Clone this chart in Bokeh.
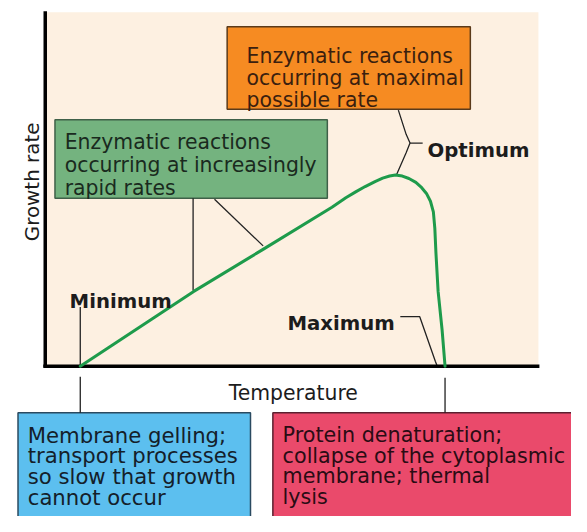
import math
from bokeh.plotting import figure
from bokeh.models import Range1d
from bokeh.core.properties import value
from bokeh.embed import file_html
from bokeh.resources import INLINE

# ---------------- data ----------------
temperature = [0, 31, 50, 69, 72.8, 75.5, 78.1, 80.8, 82.9, 84.8, 86.4, 88.3, 90.1, 92.0,
               93.6, 94.9, 96.0, 96.8, 97.2, 97.5, 98.1, 99.2, 100]
growth_rate = [0, 39, 61, 83.2, 88.1, 91.2, 94.0, 96.6, 98.4, 99.5, 100, 99.5, 98.2, 96.2,
               93.4, 90.4, 86.3, 80.7, 72.1, 59.4, 39.1, 18.8, 0]

cardinal_labels = ["Minimum", "Optimum", "Maximum"]
x_title = "Temperature"
y_title = "Growth rate"
green_text = ["Enzymatic reactions", "occurring at increasingly", "rapid rates"]
orange_text = ["Enzymatic reactions", "occurring at maximal", "possible rate"]
blue_text = ["Membrane gelling;", "transport processes", "so slow that growth", "cannot occur"]
red_text = ["Protein denaturation;", "collapse of the cytoplasmic", "membrane; thermal", "lysis"]

# ---------------- layout (reference pixels -> data units) ----------------
T0_PX, PX_PER_T = 82.0, 3.75
G0_PX, PX_PER_G = 377.0, 1.97
W, H = 571, 516
REF_W, REF_H = 587, 532
FS = W / REF_W


def tx(px):
    return (px - T0_PX) / PX_PER_T


def gy(py):
    return (G0_PX - py) / PX_PER_G


def fsize(px):
    return f"{px * FS:.1f}px"


FONT = value("DejaVu Sans")
INK = "#1c1c1c"

p = figure(width=W, height=H, output_backend="svg", toolbar_location=None,
           x_range=Range1d(tx(0), tx(REF_W)), y_range=Range1d(gy(REF_H), gy(0)),
           x_axis_type=None, y_axis_type=None, min_border=0)
p.grid.visible = False
p.outline_line_color = None
p.background_fill_color = "white"
p.border_fill_color = "white"

# plot background
p.quad(left=[tx(46)], right=[tx(553)], top=[gy(12)], bottom=[gy(377)],
       fill_color="#FDF0E1", line_color=None)


def box(l, r, t, b, fill, line):
    p.quad(left=[tx(l)], right=[tx(r)], top=[gy(t)], bottom=[gy(b)],
           fill_color=fill, line_color=line, line_width=1.5)


box(56, 336, 123, 204, "#74B37F", "#3F6048")
box(233, 483, 27, 112, "#F68B22", "#5A3A1A")
box(18, 257, 425, 560, "#5CBFEF", "#2A4A60")
box(280, 620, 425, 560, "#EA4A6B", "#5A2030")

# leader lines
leaders = [
    [(82, 316), (82, 376)],
    [(82, 388), (82, 425)],
    [(457, 389), (457, 425)],
    [(198, 204), (198, 299)],
    [(220, 205), (270, 253)],
    [(409, 113), (417, 138), (421, 147), (417, 157), (407, 180)],
    [(421, 147), (434, 147)],
    [(411, 326), (431, 326), (447, 372), (449, 377)],
]
p.multi_line(xs=[[tx(a) for a, _ in seg] for seg in leaders],
             ys=[[gy(b) for _, b in seg] for seg in leaders],
             line_color="#222222", line_width=1.3)

# axes lines
p.segment(x0=[tx(46), tx(44)], y0=[gy(11), gy(377)], x1=[tx(46), tx(554)], y1=[gy(378), gy(377)],
          line_color="black", line_width=3.5)

# growth curve
p.line(temperature, growth_rate, line_color="#1E9B4B", line_width=3,
       line_join="round", line_cap="round")


def block(lines, x, y0, step, size, color):
    p.text(x=[tx(x)] * len(lines), y=[gy(y0 + i * step) for i in range(len(lines))],
           text=lines, text_font=FONT, text_font_size=fsize(size), text_color=color,
           text_align="left", text_baseline="alphabetic")


block(green_text, 66, 146, 23.5, 21, "#1a2a1e")
block(orange_text, 253, 57, 22.7, 21, "#3B1F0F")
block(blue_text, 28, 448, 21.3, 21.8, "#14202a")
block(red_text, 290, 448, 21.3, 21.3, "#2a0c14")

# cardinal labels
p.text(x=[tx(71), tx(439), tx(295)], y=[gy(310), gy(155), gy(333)], text=cardinal_labels,
       text_font=FONT, text_font_style="bold", text_font_size=fsize(20.3), text_color=INK,
       text_align="left", text_baseline="alphabetic")

# axis titles
p.text(x=[tx(301)], y=[gy(405)], text=[x_title], text_font=FONT, text_font_size=fsize(21),
       text_color=INK, text_align="center", text_baseline="alphabetic")
p.text(x=[tx(33)], y=[gy(187)], text=[y_title], angle=math.pi / 2, text_font=FONT,
       text_font_size=fsize(20.5), text_color=INK, text_align="center", text_baseline="alphabetic")

open("out.html", "w").write(file_html(p, INLINE))
